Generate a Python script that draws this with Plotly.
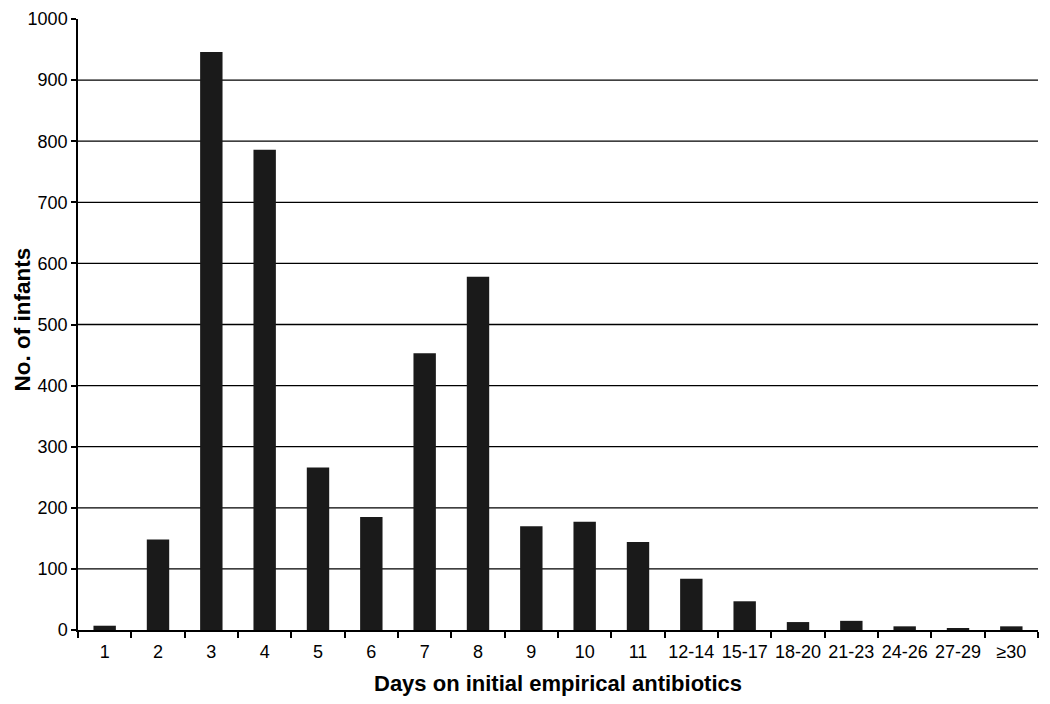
import plotly.graph_objects as go

# Duration categories and counts
days = ["1", "2", "3", "4", "5", "6", "7", "8", "9", "10", "11",
        "12-14", "15-17", "18-20", "21-23", "24-26", "27-29", "≥30"]
infants = [7, 148, 946, 786, 266, 185, 453, 578, 170, 177, 144,
           84, 47, 13, 15, 6, 2, 6]

y_ticks = [0, 100, 200, 300, 400, 500, 600, 700, 800, 900, 1000]
grid_levels = [100, 200, 300, 400, 500, 600, 700, 800, 900]

fig = go.Figure()
fig.add_trace(go.Bar(x=days, y=infants, marker=dict(color="#1a1a1a", line=dict(width=0))))

# horizontal rules (no rule at the top of the axis)
for g in grid_levels:
    fig.add_shape(type="line", xref="paper", yref="y", x0=0, x1=1, y0=g, y1=g,
                  line=dict(color="black", width=1.3), layer="below")

# axis titles as annotations so their position can be set exactly
fig.add_annotation(text="<b>Days on initial empirical antibiotics</b>", xref="paper", yref="paper",
                   x=0.5, y=0, xanchor="center", yanchor="middle", yshift=-53,
                   showarrow=False, font=dict(size=22))
fig.add_annotation(text="<b>No. of infants</b>", xref="paper", yref="paper",
                   x=0, y=0.5, xanchor="center", yanchor="middle", xshift=-56, yshift=5,
                   textangle=-90, showarrow=False, font=dict(size=22.5))

fig.update_layout(
    width=1050, height=704,
    margin=dict(l=70, r=20, t=11, b=82),
    paper_bgcolor="white", plot_bgcolor="white",
    bargap=0.58,
    showlegend=False,
    font=dict(family="Liberation Sans, Arial, sans-serif", color="black", size=18),
    xaxis=dict(
        type="category", automargin=False, tickangle=0,
        showline=True, linecolor="black", linewidth=1.5,
        ticks="outside", tickson="boundaries", ticklen=6, tickwidth=1.5, tickcolor="black",
        ticklabelstandoff=5,
        showgrid=False,
        tickfont=dict(size=18),
    ),
    yaxis=dict(
        range=[0, 1000], tickvals=y_ticks, automargin=False,
        ticklabeloverflow="allow",
        showline=True, linecolor="black", linewidth=1.5,
        ticks="outside", ticklen=5, tickwidth=1.5, tickcolor="black",
        showgrid=False, zeroline=False,
        tickfont=dict(size=18),
    ),
)

fig.write_html("out.html")
